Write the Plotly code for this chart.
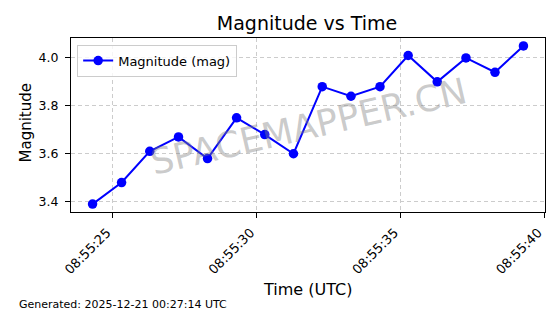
import plotly.graph_objects as go
import pandas as pd

# ---- data ----
times = [
    "2025-12-20 08:55:24.29", "2025-12-20 08:55:25.30", "2025-12-20 08:55:26.28",
    "2025-12-20 08:55:27.28", "2025-12-20 08:55:28.29", "2025-12-20 08:55:29.30",
    "2025-12-20 08:55:30.28", "2025-12-20 08:55:31.28", "2025-12-20 08:55:32.28",
    "2025-12-20 08:55:33.28", "2025-12-20 08:55:34.29", "2025-12-20 08:55:35.27",
    "2025-12-20 08:55:36.28", "2025-12-20 08:55:37.28", "2025-12-20 08:55:38.29",
    "2025-12-20 08:55:39.28",
]
magnitudes = [3.39, 3.48, 3.61, 3.67, 3.58, 3.75, 3.68, 3.60,
              3.88, 3.84, 3.88, 4.01, 3.90, 4.00, 3.94, 4.05]
series_name = "Magnitude (mag)"
title_text = "Magnitude vs Time"
x_label = "Time (UTC)"
y_label = "Magnitude"
footer_text = "Generated: 2025-12-21 00:27:14 UTC"
watermark = "SPACEMAPPER.CN"
x_tick0 = "2025-12-20 08:55:25"

# ---- layout constants ----
W, H = 560, 314
ML, MR, MT, MB = 71, 15, 38, 102
PW, PH = W - ML - MR, H - MT - MB


def px_to_paper_x(px):
    return (px - ML) / PW


def px_to_paper_y(py):
    return (H - MB - py) / PH


t = pd.to_datetime(times)
tspan = t.max() - t.min()
xr = [t.min() - 0.05 * tspan, t.max() + 0.05 * tspan]
ymin, ymax = min(magnitudes), max(magnitudes)
ypad = 0.05 * (ymax - ymin)
yr = [ymin - ypad, ymax + ypad]

FONT = "DejaVu Sans"

fig = go.Figure()
fig.add_trace(go.Scatter(
    x=t, y=magnitudes, mode="lines+markers", name=series_name,
    line=dict(color="#0000ff", width=2),
    marker=dict(color="#0000ff", size=9.5),
    showlegend=True,
))

fig.update_layout(
    width=W, height=H,
    margin=dict(l=ML, r=MR, t=MT, b=MB),
    paper_bgcolor="white", plot_bgcolor="white",
    font=dict(family=FONT, color="black", size=12.5),
    title=dict(text=title_text, x=px_to_paper_x(307), xref="paper", xanchor="center",
               y=1 - 23 / H, yref="container", yanchor="middle",
               font=dict(family=FONT, size=19, color="black")),
    legend=dict(x=0.013, y=0.962, xanchor="left", yanchor="top",
                bgcolor="rgba(255,255,255,0.8)", bordercolor="#cccccc", borderwidth=1,
                font=dict(family=FONT, size=13, color="black"), itemwidth=30),
    showlegend=True,
)

fig.update_xaxes(
    type="date", range=xr, tick0=x_tick0, dtick=5000, tickformat="%H:%M:%S",
    tickangle=-45, showline=True, linecolor="black", linewidth=1, mirror=True,
    ticks="outside", ticklen=5, tickwidth=1, tickcolor="black",
    ticklabelshift=-6, ticklabelstandoff=2,
    showgrid=True, gridcolor="#cccccc", gridwidth=0.8, griddash="4px,3px",
    zeroline=False, tickfont=dict(family=FONT, size=13, color="black"),
)
fig.update_yaxes(
    range=yr, dtick=0.2, tick0=0, tickformat=".1f",
    showline=True, linecolor="black", linewidth=1, mirror=True,
    ticks="outside", ticklen=5, tickwidth=1, tickcolor="black",
    ticklabelstandoff=4,
    showgrid=True, gridcolor="#cccccc", gridwidth=0.8, griddash="4px,3px",
    zeroline=False, tickfont=dict(family=FONT, size=12.5, color="black"),
)

fig.add_annotation(text=watermark, xref="paper", yref="paper",
                   x=0.5, y=0.49, showarrow=False, textangle=-13,
                   font=dict(family=FONT, size=36, color="rgba(128,128,128,0.42)"))
fig.add_annotation(text=y_label, xref="paper", yref="paper",
                   x=px_to_paper_x(25), y=px_to_paper_y(123.5), showarrow=False,
                   textangle=-90, xanchor="center", yanchor="middle",
                   font=dict(family=FONT, size=15, color="black"))
fig.add_annotation(text=x_label, xref="paper", yref="paper",
                   x=px_to_paper_x(307), y=px_to_paper_y(289), showarrow=False,
                   xanchor="center", yanchor="middle",
                   font=dict(family=FONT, size=16, color="black"))
fig.add_annotation(text=footer_text, xref="paper", yref="paper",
                   x=px_to_paper_x(17), y=px_to_paper_y(304), showarrow=False,
                   xanchor="left", yanchor="middle",
                   font=dict(family=FONT, size=11, color="black"))

fig.write_html("out.html")
